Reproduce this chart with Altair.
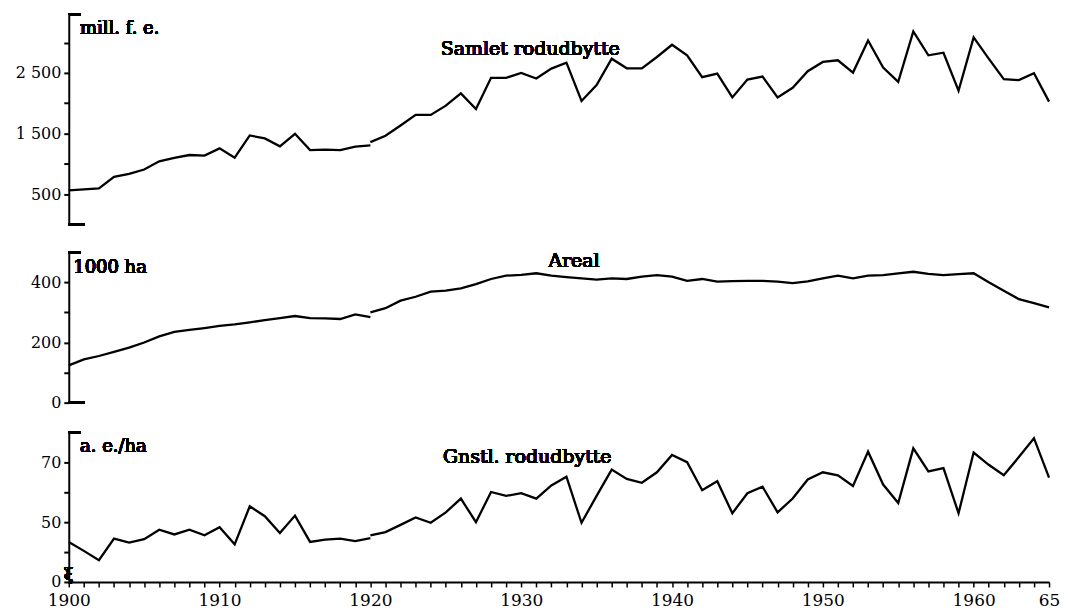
import altair as alt
import pandas as pd

# ---- data ----
years_old = list(range(1900, 1921))
years_new = list(range(1920, 1966))

total_old = [561, 577, 593, 784, 833, 905, 1041, 1095, 1144, 1134, 1254, 1101, 1467, 1418,
             1287, 1495, 1226, 1233, 1226, 1282, 1303]
total_new = [1357, 1462, 1631, 1807, 1807, 1959, 2161, 1905, 2418, 2418, 2500, 2407, 2570, 2669,
             2036, 2298, 2734, 2575, 2575, 2762, 2964, 2790, 2430, 2489, 2095, 2390, 2439, 2095,
             2254, 2528, 2680, 2708, 2505, 3036, 2587, 2352, 3183, 2790, 2833, 2205, 3085, 2734,
             2397, 2380, 2495, 2025]

area_old = [124, 144, 155, 169, 183, 200, 220, 235, 242, 248, 255, 260, 267, 274, 281, 288,
            281, 280, 278, 293, 284]
area_new = [300, 314, 339, 352, 369, 372, 380, 394, 411, 422, 425, 430, 422, 417, 413, 409, 413,
            411, 419, 424, 419, 405, 411, 402, 404, 405, 405, 402, 397, 403, 413, 422, 413, 422,
            424, 430, 435, 428, 424, 427, 430, 400, 372, 344, 331, 317]

yield_old = [43.4, 40.4, 37.3, 44.5, 43.2, 44.3, 47.5, 45.9, 47.5, 45.6, 48.3, 42.6, 55.3, 52.0,
             46.4, 52.2, 43.4, 44.2, 44.5, 43.7, 44.7]
yield_new = [45.6, 46.7, 49.1, 51.6, 49.8, 53.3, 57.9, 50.0, 60.1, 58.8, 59.7, 57.9, 62.3, 65.2,
             49.8, 58.8, 67.6, 64.5, 63.2, 66.7, 72.5, 70.1, 60.7, 63.7, 53.0, 59.7, 61.9, 53.3,
             57.9, 64.3, 66.7, 65.7, 62.1, 73.6, 62.6, 56.4, 74.7, 67.0, 68.1, 53.0, 73.3, 69.2,
             65.7, 71.8, 78.1, 64.9]

x_tick_values = list(range(1900, 1966))

FONT = "DejaVu Serif"
W = 984
XSCALE = alt.Scale(domain=[1900, 1965], nice=False, zero=False)


def frame(old, new):
    return pd.DataFrame({
        "year": years_old + years_new,
        "value": old + new,
        "seg": ["a"] * len(old) + ["b"] * len(new),
    })


def panel(df, domain, ticks, label_expr, height, unit, title, bottom_serif, show_x, extra=None):
    yscale = alt.Scale(domain=domain, nice=False, zero=False)
    if show_x:
        xaxis = alt.Axis(values=x_tick_values,
                         labelExpr="datum.value % 10 == 0 ? toString(datum.value) : (datum.value == 1965 ? '65' : '')",
                         title=None, grid=False, tickSize=5, tickWidth=1.5, tickColor="black",
                         domainWidth=2, domainColor="black", labelFont=FONT, labelFontSize=17,
                         labelColor="black", labelPadding=6, labelOverlap=False, labelFlush=False,
                         labelBound=False)
    else:
        xaxis = None
    yaxis = alt.Axis(values=ticks, labelExpr=label_expr, title=None, grid=False,
                     domainWidth=2, domainColor="black", tickColor="black", tickWidth=2,
                     tickSize=5, labelFont=FONT, labelFontSize=16, labelColor="black",
                     labelPadding=3, minExtent=61, maxExtent=61, labelOverlap=False)

    def xd(v):
        return alt.XDatum(v, scale=XSCALE, axis=xaxis)

    def yd(v):
        return alt.YDatum(v, scale=yscale, axis=yaxis)

    line = alt.Chart(df).mark_line(color="black", strokeWidth=2.3, strokeJoin="miter").encode(
        x=alt.X("year:Q", scale=XSCALE, axis=xaxis),
        y=alt.Y("value:Q", scale=yscale, axis=yaxis),
        detail="seg:N",
    )
    layers = [line]
    # top serif of the axis bracket
    layers.append(alt.Chart(df).mark_rule(color="black", strokeWidth=2).encode(
        x=xd(1900), x2=alt.datum(1900.8), y=yd(domain[1])))
    if bottom_serif:
        layers.append(alt.Chart(df).mark_rule(color="black", strokeWidth=2).encode(
            x=xd(1900), x2=alt.datum(1901.05), y=yd(domain[0])))
    txt, xx, yy = unit
    layers.append(alt.Chart(df).mark_text(font=FONT, fontSize=18, color="black",
                                          align="left", baseline="middle").encode(
        x=xd(xx), y=yd(yy), text=alt.value(txt)))
    txt, xx, yy = title
    layers.append(alt.Chart(df).mark_text(font=FONT, fontSize=19, color="black",
                                          align="center", baseline="middle").encode(
        x=xd(xx), y=yd(yy), text=alt.value(txt)))
    if extra is not None:
        txt, xx, yy = extra
        layers.append(alt.Chart(df).mark_text(font=FONT, fontSize=16, color="black",
                                              fontWeight="bold", align="center",
                                              baseline="middle").encode(
            x=xd(xx), y=yd(yy), text=alt.value(txt)))
    return alt.layer(*layers).properties(width=W, height=height)


top = panel(frame(total_old, total_new), [0, 3470], [500, 1000, 1500, 2000, 2500, 3000],
            "datum.value == 500 ? '500' : (datum.value == 1500 ? '1 500' : (datum.value == 2500 ? '2 500' : ''))",
            211, ("mill. f. e.", 1900.75, 3221), ("Samlet rodudbytte", 1930.6, 2893),
            True, False)

mid = panel(frame(area_old, area_new), [0, 500], [0, 100, 200, 300, 400],
            "datum.value % 200 == 0 ? toString(datum.value) : ''",
            151, ("1000 ha", 1900.3, 447), ("Areal", 1933.5, 470),
            True, False)

bot = panel(frame(yield_old, yield_new), [30, 80], [30, 40, 50, 60, 70],
            "datum.value == 30 ? '0' : (datum.value == 50 || datum.value == 70 ? toString(datum.value) : '')",
            150, ("a. e./ha", 1900.75, 75.3), ("Gnstl. rodudbytte", 1930.4, 71.7),
            False, True, extra=("ξ", 1900, 32.3))

upper = alt.vconcat(top, mid, spacing=26)
chart = alt.vconcat(upper, bot, spacing=21).properties(
    padding={"left": 0, "top": 4, "right": 0, "bottom": 0}
).configure(background="white").configure_view(stroke=None).configure_axis(labelOverlap=False)

chart.save("out.html", embed_options={"renderer": "svg", "actions": False})
